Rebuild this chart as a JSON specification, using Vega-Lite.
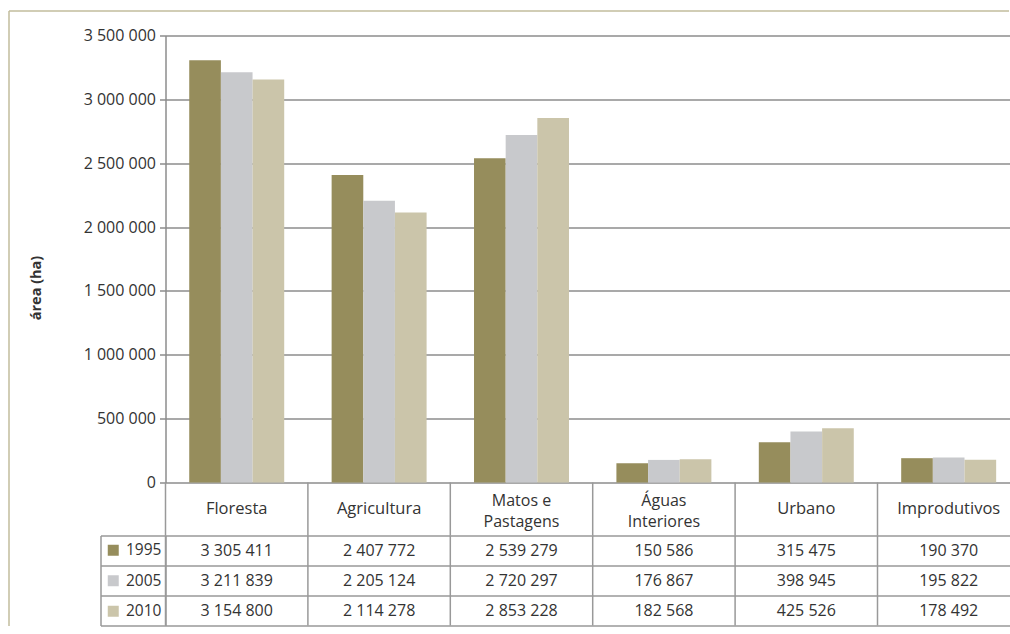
{
  "$schema": "https://vega.github.io/schema/vega-lite/v6.json",
  "padding": {"left": 7.5, "top": 10.5, "right": 0, "bottom": 0},
  "background": "white",
  "spacing": 0,
  "bounds": "flush",
  "config": {
    "locale": {"number": {"decimal": ",", "thousands": " ", "grouping": [3], "currency": ["", " €"]}},
    "font": "Open Sans",
    "view": {"stroke": null},
    "axis": {"labelFont": "Open Sans", "titleFont": "Open Sans"}
  },
  "datasets": {
    "areas": [
      {"categoria": "Floresta", "ano": "1995", "area": 3305411},
      {"categoria": "Floresta", "ano": "2005", "area": 3211839},
      {"categoria": "Floresta", "ano": "2010", "area": 3154800},
      {"categoria": "Agricultura", "ano": "1995", "area": 2407772},
      {"categoria": "Agricultura", "ano": "2005", "area": 2205124},
      {"categoria": "Agricultura", "ano": "2010", "area": 2114278},
      {"categoria": "Matos e\nPastagens", "ano": "1995", "area": 2539279},
      {"categoria": "Matos e\nPastagens", "ano": "2005", "area": 2720297},
      {"categoria": "Matos e\nPastagens", "ano": "2010", "area": 2853228},
      {"categoria": "Águas\nInteriores", "ano": "1995", "area": 150586},
      {"categoria": "Águas\nInteriores", "ano": "2005", "area": 176867},
      {"categoria": "Águas\nInteriores", "ano": "2010", "area": 182568},
      {"categoria": "Urbano", "ano": "1995", "area": 315475},
      {"categoria": "Urbano", "ano": "2005", "area": 398945},
      {"categoria": "Urbano", "ano": "2010", "area": 425526},
      {"categoria": "Improdutivos", "ano": "1995", "area": 190370},
      {"categoria": "Improdutivos", "ano": "2005", "area": 195822},
      {"categoria": "Improdutivos", "ano": "2010", "area": 178492}
    ],
    "categorias": [
      {"categoria": "Floresta"},
      {"categoria": "Agricultura"},
      {"categoria": "Matos e\nPastagens"},
      {"categoria": "Águas\nInteriores"},
      {"categoria": "Urbano"},
      {"categoria": "Improdutivos"}
    ]
  },
  "resolve": {"scale": {"x": "independent", "color": "independent"}, "legend": {"color": "independent"}},
  "vconcat": [
    {
      "width": 843,
      "height": 447,
      "data": {"name": "areas"},
      "layer": [
        {
          "mark": {"type": "bar"},
          "encoding": {
            "x": {
              "field": "categoria", "type": "nominal", "sort": null,
              "scale": {"paddingInner": 0.333, "paddingOuter": 0.1667, "range": [0, 854.4]},
              "axis": null
            },
            "xOffset": {"field": "ano", "type": "nominal", "scale": {"paddingInner": 0, "paddingOuter": 0}},
            "y": {
              "field": "area", "type": "quantitative",
              "scale": {"domain": [0, 3500000], "nice": false},
              "axis": {
                "values": [0, 500000, 1000000, 1500000, 2000000, 2500000, 3000000, 3500000],
                "format": ",d",
                "title": "área (ha)",
                "titleFontWeight": "bold", "titleFontSize": 14.5, "titleColor": "#333333",
                "titleX": -129, "titleY": 252, "titleBaseline": "middle", "titleAngle": -90,
                "labelFontSize": 16, "labelColor": "#333333", "labelPadding": 4,
                "tickSize": 6, "tickColor": "#8c8c8c", "tickWidth": 1.5,
                "domainColor": "#8c8c8c", "domainWidth": 1.5,
                "grid": true, "gridColor": "#8c8c8c", "gridWidth": 1.3
              }
            },
            "color": {
              "field": "ano", "type": "nominal",
              "scale": {"domain": ["1995", "2005", "2010"], "range": ["#968d5c", "#c8c9cc", "#cbc5aa"]},
              "legend": null
            }
          }
        },
        {
          "mark": {"type": "point", "opacity": 0, "size": 1},
          "encoding": {
            "x": {
              "datum": 0, "type": "quantitative",
              "scale": {"domain": [0, 1], "range": [-157, 843], "nice": false, "zero": false},
              "axis": {"orient": "top", "offset": 25, "domain": true, "domainColor": "#c2bc9c", "domainWidth": 1.5, "ticks": false, "labels": false, "grid": false, "title": null}
            },
            "y": {
              "datum": 0, "type": "quantitative",
              "scale": {"domain": [0, 1], "range": [590, -25], "nice": false, "zero": false},
              "axis": {"orient": "left", "offset": 157, "domain": true, "domainColor": "#c2bc9c", "domainWidth": 1.5, "ticks": false, "labels": false, "grid": false, "title": null}
            }
          }
        }
      ],
      "resolve": {"scale": {"x": "independent", "y": "independent"}}
    },
    {
      "width": 843,
      "height": 53,
      "data": {"name": "categorias"},
      "encoding": {
        "x": {
          "field": "categoria", "type": "nominal", "sort": null,
          "scale": {"paddingInner": 0, "paddingOuter": 0, "range": [0, 854.4]},
          "axis": null
        }
      },
      "layer": [
        {
          "mark": {"type": "rule", "color": "#999999", "strokeWidth": 1.5},
          "encoding": {
            "x": {"field": "categoria", "type": "nominal", "sort": null, "bandPosition": 0}
          }
        },
        {
          "transform": [{"filter": "indexof(datum.categoria, '\\n') < 0"}],
          "mark": {"type": "text", "fontSize": 16.5, "color": "#333333", "baseline": "middle"},
          "encoding": {"text": {"field": "categoria"}}
        },
        {
          "transform": [{"filter": "indexof(datum.categoria, '\\n') >= 0"}],
          "mark": {"type": "text", "fontSize": 16, "color": "#333333", "lineBreak": "\n", "lineHeight": 21, "baseline": "middle", "dy": -8},
          "encoding": {"text": {"field": "categoria"}}
        }
      ]
    },
    {
      "width": 843,
      "height": 90,
      "data": {"name": "areas"},
      "layer": [
        {
          "mark": {"type": "text", "fontSize": 16, "color": "#333333", "baseline": "middle"},
          "encoding": {
            "x": {
              "field": "categoria", "type": "nominal", "sort": null,
              "scale": {"paddingInner": 0, "paddingOuter": 0, "range": [0, 854.4]},
              "axis": null
            },
            "y": {
              "field": "ano", "type": "nominal",
              "scale": {"domain": ["1995", "2005", "2010"], "paddingInner": 0, "paddingOuter": 0},
              "axis": {"orient": "left", "tickBand": "extent", "grid": true, "gridColor": "#999999", "gridWidth": 1.5, "ticks": true, "tickSize": 65, "tickColor": "#999999", "tickWidth": 1.5, "labels": false, "domain": true, "domainColor": "#999999", "domainWidth": 1.5, "title": null}
            },
            "text": {"field": "area", "type": "quantitative", "format": ",d"}
          }
        },
        {
          "data": {"name": "categorias"},
          "mark": {"type": "rule", "color": "#999999", "strokeWidth": 1.5},
          "encoding": {
            "x": {"field": "categoria", "type": "nominal", "sort": null, "bandPosition": 0}
          }
        },
        {
          "mark": {"type": "square", "opacity": 0},
          "encoding": {
            "x": {"field": "categoria", "type": "nominal", "sort": null},
            "y": {
              "field": "ano", "type": "nominal",
              "scale": {"domain": ["1995", "2005", "2010"], "paddingInner": 0, "paddingOuter": 0},
              "axis": {"orient": "left", "offset": 65, "domain": true, "domainColor": "#999999", "domainWidth": 1.5, "ticks": false, "labels": false, "grid": false, "title": null}
            },
            "color": {
              "field": "ano", "type": "nominal",
              "scale": {"domain": ["1995", "2005", "2010"], "range": ["#968d5c", "#c8c9cc", "#cbc5aa"]},
              "legend": {
                "orient": "none", "legendX": -60, "legendY": 7, "title": null,
                "symbolType": "square", "symbolSize": 121, "symbolOpacity": 1, "symbolStrokeWidth": 0,
                "labelFontSize": 15.5, "labelColor": "#333333", "labelOffset": 5,
                "rowPadding": 13.5, "padding": 0
              }
            }
          }
        }
      ],
      "resolve": {"scale": {"y": "independent"}}
    }
  ]
}
